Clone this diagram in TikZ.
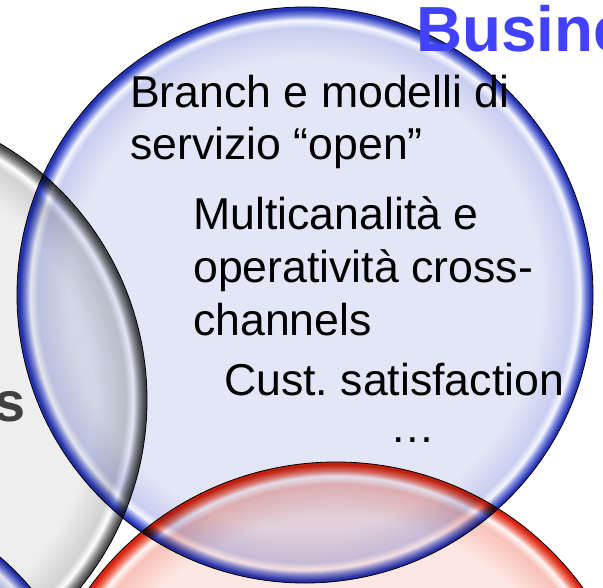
\documentclass[tikz,border=0pt]{standalone}
\usepackage{fontspec}
\setmainfont{Liberation Sans}
\usetikzlibrary{positioning}

\definecolor{blueInner}{HTML}{E3E6F6}
\definecolor{blueSoft}{HTML}{C9CEF0}
\definecolor{blueShine}{HTML}{F6F7FE}
\definecolor{blueMid}{HTML}{7F8BE0}
\definecolor{blueEdge}{HTML}{2533B5}
\definecolor{grayInner}{HTML}{EEEEEE}
\definecolor{graySoft}{HTML}{D2D2D2}
\definecolor{grayShine}{HTML}{FFFFFF}
\definecolor{grayMid}{HTML}{9A9A9A}
\definecolor{grayEdge}{HTML}{4A4A4A}
\definecolor{redInner}{HTML}{FDE7E3}
\definecolor{redSoft}{HTML}{F8C2B8}
\definecolor{redShine}{HTML}{FFF5F3}
\definecolor{redMid}{HTML}{F07A68}
\definecolor{redEdge}{HTML}{D8220F}
\definecolor{titleBlue}{HTML}{4141FF}
\definecolor{wordGray}{HTML}{404040}

\pgfdeclareradialshading{blueGlass}{\pgfpoint{0bp}{0bp}}{color(0bp)=(blueInner); color(20.5bp)=(blueInner); color(23.2bp)=(blueSoft); color(23.85bp)=(blueShine); color(24.3bp)=(blueMid); color(24.8bp)=(blueEdge); color(25bp)=(blueEdge); color(50bp)=(blueEdge)}
\pgfdeclareradialshading{grayGlass}{\pgfpoint{0bp}{0bp}}{color(0bp)=(grayInner); color(20.5bp)=(grayInner); color(23.2bp)=(graySoft); color(23.85bp)=(grayShine); color(24.3bp)=(grayMid); color(24.8bp)=(grayEdge); color(25bp)=(grayEdge); color(50bp)=(grayEdge)}
\pgfdeclareradialshading{redGlass}{\pgfpoint{0bp}{0bp}}{color(0bp)=(redInner); color(20.5bp)=(redInner); color(23.2bp)=(redSoft); color(23.85bp)=(redShine); color(24.3bp)=(redMid); color(24.8bp)=(redEdge); color(25bp)=(redEdge); color(50bp)=(redEdge)}

\begin{document}
\begin{tikzpicture}[x=1bp,y=-1bp]

    \tikzstyle{bubble}=[circle, inner sep=0pt, draw=black, line width=0.8bp, shade]
    \tikzstyle{blueBubble}=[bubble, shading=blueGlass]
    \tikzstyle{grayBubble}=[bubble, shading=grayGlass]
    \tikzstyle{redBubble}=[bubble, shading=redGlass]
    \tikzstyle{item}=[inner sep=0pt, align=left, font=\fontsize{44.8pt}{52.7pt}\selectfont]
    \tikzstyle{heading}=[inner sep=0pt, font=\fontsize{64pt}{70pt}\selectfont\bfseries]

    \useasboundingbox (0,0) rectangle (603,588);
    \clip (0,0) rectangle (603,588);
    \fill[white] (0,0) rectangle (603,588);

    \begin{scope}[blend mode=multiply]
        % Circles
        \node at (-150,400) [grayBubble, minimum size=594bp] (G)  {};
        \node at (-186,773) [blueBubble, minimum size=570bp] (B2) {};
        \node at (305,295)  [blueBubble, minimum size=576bp] (B)  {};
        \node at (336,767)  [redBubble,  minimum size=610bp] (R)  {};
    \end{scope}

    % Texts (base anchor sits on the last line)
    \node at (416,52)  [heading, anchor=base west, text=titleBlue] (title) {Business};
    \node at (26,421)  [heading, anchor=base east, text=wordGray, font=\fontsize{56pt}{60pt}\selectfont\bfseries] (word) {s};
    \node at (130,160) [item, anchor=base west] (branch) {Branch e modelli di\\servizio “open”};
    \node at (193,335) [item, anchor=base west] (multi)  {Multicanalità e\\operatività cross-\\channels};
    \node at (224,395) [item, anchor=base west] (cust)   {Cust.\ satisfaction};
    \node at (413,442) [item, anchor=base]      (etc)    {…};

\end{tikzpicture}
\end{document}
